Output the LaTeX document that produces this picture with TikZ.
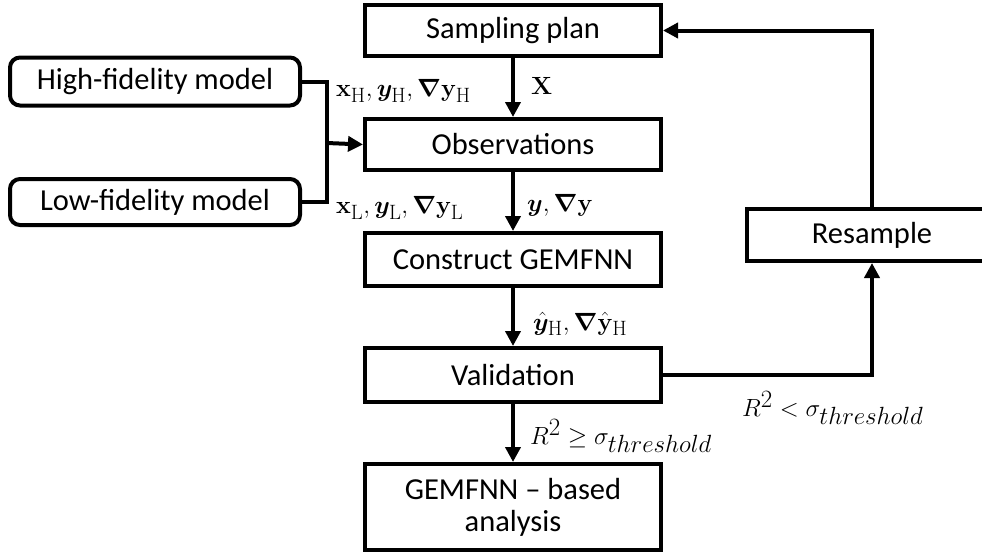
\documentclass[tikz,border=0pt]{standalone}
\usepackage{amsmath,bm}
\usepackage[no-math]{fontspec}
\setmainfont{Carlito}
\usetikzlibrary{arrows.meta}
\tikzset{
  box/.style={draw, line width=4pt, minimum width=296pt, inner sep=0pt, align=center, font=\fontsize{30.5}{34}\selectfont},
  rbox/.style={box, rounded corners=10pt, minimum width=290pt},
  conn/.style={line width=4pt},
  arr/.style={conn, -{Triangle[length=15pt,width=15pt]}},
  lab/.style={inner sep=0pt, font=\fontsize{30}{34}\selectfont},
  rlab/.style={inner sep=0pt, font=\fontsize{34}{38}\selectfont},
}
\begin{document}
\begin{tikzpicture}[x=1pt,y=-1pt]
\useasboundingbox (0,0) rectangle (982,557);
\begin{scope}
\clip (0,0) rectangle (982,557);
\node[box, minimum height=51pt] (samp) at (513,30.5) {Sampling plan};
\node[box, minimum height=51pt] (obs) at (513,144.5) {Observations};
\node[box, minimum height=53pt] (cons) at (513,259.5) {Construct GEMFNN};
\node[box, minimum height=54pt] (val) at (513,375) {Validation};
\node[box, minimum height=86pt] (gem) at (513,507) {GEMFNN -- based\\[-2pt]analysis};
\node[box, minimum width=250pt, minimum height=52pt] (res) at (872,235) {Resample};
\node[rbox, minimum height=48pt] (hf) at (155,81.5) {High-fidelity model};
\node[rbox, minimum height=46pt] (lf) at (155,202) {Low-fidelity model};
\coordinate (j) at (327,143);
\draw[conn] (hf.east) -| (j);
\draw[conn] (lf.east) -| (j);
\draw[arr] (j) -- (obs.west);
\draw[arr] (samp) -- (obs);
\draw[arr] (obs) -- (cons);
\draw[arr] (cons) -- (val);
\draw[arr] (val) -- (gem);
\draw[arr] (val.east) -| (res.south);
\draw[arr] (res.north) |- (samp.east);
\node[lab, anchor=west] (lx) at (531,86) {$\mathbf{X}$};
\node[lab, anchor=west] (lh) at (336,91) {$\mathbf{x}_{\mathrm{H}},\bm{y}_{\mathrm{H}},\bm{\nabla}\mathbf{y}_{\mathrm{H}}$};
\node[lab, anchor=west] (ll) at (336,208) {$\mathbf{x}_{\mathrm{L}},\bm{y}_{\mathrm{L}},\bm{\nabla}\mathbf{y}_{\mathrm{L}}$};
\node[lab, anchor=west] (ly) at (527,205) {$\bm{y},\bm{\nabla}\mathbf{y}$};
\node[lab, anchor=west] (lyh) at (533,324) {$\hat{\bm{y}}_{\mathrm{H}},\bm{\nabla}\hat{\mathbf{y}}_{\mathrm{H}}$};
\node[rlab, anchor=west] (lge) at (530,436) {$R^2\geq\sigma_{threshold}$};
\node[rlab, anchor=west] (llt) at (742,408) {$R^2<\sigma_{threshold}$};
\end{scope}
\end{tikzpicture}
\end{document}
